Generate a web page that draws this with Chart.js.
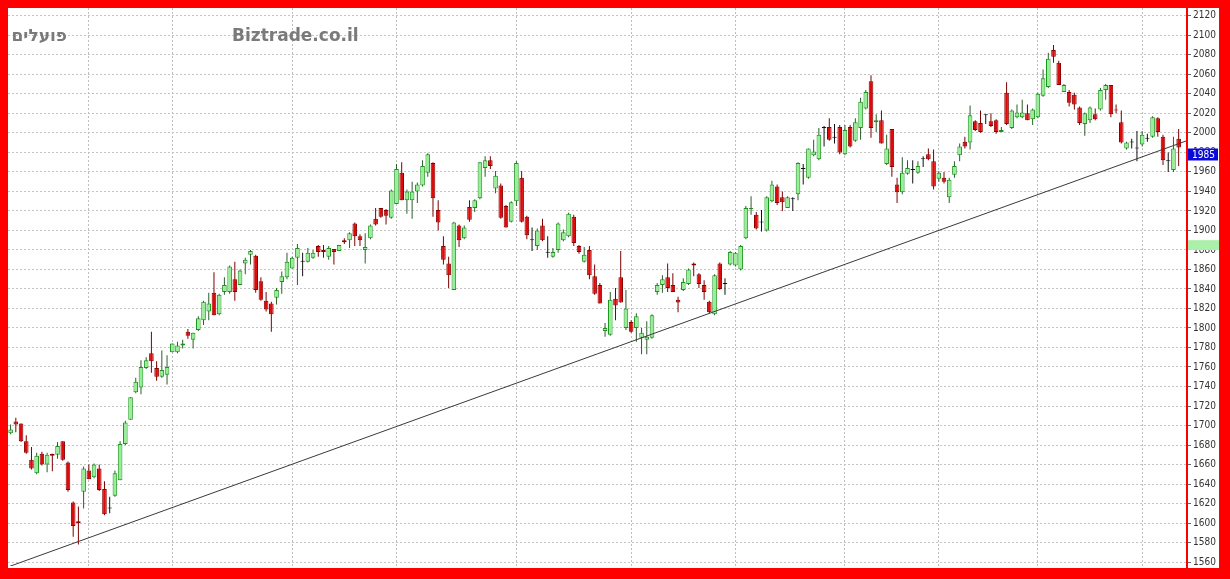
<!DOCTYPE html>
<html><head><meta charset="utf-8">
<script src="https://cdn.jsdelivr.net/npm/chart.js@4.4.0/dist/chart.umd.min.js"></script>
<style>html,body{margin:0;padding:0;background:#ff0000;overflow:hidden}#wrap{position:relative;width:1230px;height:579px}</style>
</head><body><div id="wrap"><canvas id="c" width="1230" height="579"></canvas></div>
<script>
const opens = [1692,1704,1702,1684,1665,1651,1671,1660,1671,1670,
1684,1662,1621,1602,1632,1654,1647,1656,1635,1615,
1628,1644,1681,1706,1734,1739,1759,1774,1759,1750,
1752,1775,1775,1782,1796,1788,1798,1808,1817,1836,
1814,1837,1837,1850,1844,1866,1875,1874,1848,1828,
1825,1831,1847,1852,1861,1872,1868,1868,1872,1884,
1880,1873,1881,1879,1890,1890,1907,1894,1880,1892,
1912,1923,1921,1913,1927,1959,1931,1931,1940,1946,
1959,1969,1921,1884,1866,1839,1905,1892,1924,1923,
1933,1964,1972,1943,1946,1925,1909,1930,1954,1914,
1890,1884,1905,1877,1873,1880,1890,1894,1914,1884,
1868,1880,1853,1844,1797,1793,1830,1852,1800,1806,
1800,1790,1788,1790,1837,1844,1852,1844,1829,1839,
1845,1866,1855,1844,1827,1814,1866,1845,1865,1864,
1860,1892,1922,1916,1908,1900,1930,1945,1934,1923,
1932,1937,1963,1954,1977,1973,2005,2006,1995,2006,
1978,2006,1992,2005,2025,2053,2011,2013,1968,2004,
1947,1939,1958,1962,1959,1973,1978,1971,1953,1954,
1934,1957,1977,1991,1990,2012,2010,2018,2012,2013,
2001,2041,2005,2016,2016,2020,2014,2016,2038,2047,
2085,2072,2042,2042,2039,2026,2009,2013,2019,2024,
2044,2049,2024,2011,1984,1990,1984,1988,1994,1996,
2015,1996,1971,1962,1994];
const highs = [1701,1708,1702,1690,1678,1672,1673,1672,1671,1683,
1684,1663,1622,1617,1658,1660,1661,1660,1643,1627,
1654,1684,1705,1729,1749,1767,1770,1796,1766,1777,
1772,1784,1786,1788,1799,1795,1812,1828,1836,1857,
1835,1852,1864,1868,1860,1872,1880,1875,1852,1837,
1827,1841,1858,1877,1873,1886,1877,1882,1880,1885,
1885,1884,1881,1885,1892,1898,1908,1896,1897,1906,
1923,1923,1922,1942,1968,1970,1942,1950,1949,1972,
1979,1970,1931,1894,1873,1909,1906,1905,1931,1932,
1970,1976,1976,1961,1948,1926,1930,1971,1961,1915,
1903,1902,1912,1894,1882,1908,1901,1918,1916,1885,
1883,1884,1865,1846,1805,1837,1841,1879,1839,1808,
1815,1800,1807,1814,1846,1854,1866,1856,1832,1851,
1861,1867,1856,1849,1828,1855,1867,1851,1879,1878,
1885,1925,1935,1919,1921,1935,1951,1947,1940,1935,
1934,1970,1968,1984,1993,2005,2007,2015,2009,2008,
2008,2008,2015,2036,2044,2059,2019,2023,1998,2004,
1954,1975,1972,1972,1971,1976,1984,1983,1961,1960,
1954,1971,1989,1996,2028,2013,2023,2019,2020,2014,
2006,2052,2024,2029,2034,2029,2025,2041,2065,2082,
2090,2074,2050,2044,2041,2027,2021,2027,2025,2046,
2050,2049,2029,2023,1991,1994,2002,2002,1999,2017,
2016,1998,1980,1996,2004];
const lows = [1691,1693,1683,1671,1655,1650,1659,1652,1653,1666,
1664,1632,1586,1578,1615,1645,1646,1633,1608,1610,
1627,1644,1680,1706,1733,1732,1758,1754,1746,1749,
1742,1775,1774,1779,1789,1779,1797,1803,1808,1813,
1813,1834,1835,1828,1844,1855,1865,1836,1828,1817,
1796,1824,1835,1850,1861,1844,1853,1867,1871,1873,
1872,1870,1865,1879,1886,1882,1884,1884,1866,1891,
1905,1913,1906,1912,1927,1931,1917,1912,1928,1945,
1955,1914,1900,1865,1841,1839,1883,1891,1909,1919,
1932,1955,1963,1938,1912,1903,1908,1925,1908,1891,
1879,1880,1889,1872,1872,1877,1889,1893,1884,1876,
1867,1850,1834,1825,1791,1792,1808,1826,1798,1795,
1786,1773,1773,1789,1834,1836,1837,1837,1816,1838,
1844,1853,1841,1829,1815,1813,1839,1834,1864,1863,
1859,1891,1916,1901,1899,1899,1929,1926,1920,1923,
1920,1931,1947,1953,1976,1972,1986,1992,1989,1978,
1977,1985,1991,1993,2024,1995,2001,1989,1967,1955,
1928,1937,1957,1948,1958,1965,1972,1942,1950,1948,
1928,1954,1971,1984,1983,2002,2000,2009,2006,1999,
2001,2008,2004,2015,2015,2013,2008,2015,2037,2046,
2072,2049,2042,2027,2024,2008,1997,2010,2013,2023,
2034,2016,2020,1989,1983,1984,1971,1986,1991,1995,
1996,1967,1960,1960,1966];
const closes = [1696,1701,1684,1672,1656,1669,1660,1670,1669,1679,
1665,1634,1597,1600,1656,1645,1660,1634,1609,1615,
1651,1681,1703,1729,1745,1760,1767,1766,1750,1757,
1760,1784,1782,1784,1792,1795,1810,1827,1825,1813,
1834,1844,1863,1837,1859,1870,1879,1839,1829,1819,
1814,1839,1853,1868,1872,1882,1868,1877,1877,1878,
1878,1882,1878,1885,1888,1897,1894,1890,1883,1905,
1906,1914,1915,1941,1963,1931,1940,1940,1947,1966,
1978,1933,1908,1870,1854,1908,1890,1903,1911,1931,
1970,1972,1966,1956,1913,1903,1929,1969,1909,1895,
1890,1900,1890,1877,1878,1907,1898,1917,1887,1878,
1875,1854,1835,1825,1800,1829,1823,1826,1820,1796,
1812,1795,1791,1813,1844,1850,1841,1837,1826,1847,
1860,1864,1845,1837,1816,1854,1840,1845,1878,1877,
1884,1923,1923,1902,1908,1934,1947,1928,1929,1934,
1932,1969,1963,1984,1981,1998,2005,1993,1995,1980,
2003,1986,2011,2032,2042,2005,2013,1989,1984,1965,
1939,1959,1964,1962,1966,1973,1973,1945,1959,1950,
1952,1966,1986,1986,2018,2003,2001,2018,2007,2001,
2003,2009,2023,2021,2021,2013,2024,2040,2056,2076,
2078,2049,2049,2031,2029,2010,2020,2026,2014,2044,
2049,2019,2023,1990,1990,1990,1984,1998,1994,2016,
2001,1972,1971,1984,1985];
const monthStarts = [15,31,54,74,97,119,139,160,178,197,217];
const yTickValues = [1560,1580,1600,1620,1640,1660,1680,1700,1720,1740,1760,1780,1800,1820,1840,1860,1880,1900,1920,1940,1960,1980,2000,2020,2040,2060,2080,2100,2120];
const trendLine = [{x:-0.5,y:1555},{x:225.6,y:1992}];
const refBand = [1880,1890];
const lastPrice = 1985;
const symbolName = 'פועלים';
const siteName = 'Biztrade.co.il';

const UP_FILL = '#96ee96', UP_EDGE = '#1a941a', UP_WICK = '#2b5e2b';
const DN_FILL = '#dd0a0a', DN_EDGE = '#8c0000', DN_WICK = '#7a0000';
const DOJI = '#111111';
const AXIS_FONT = '"DejaVu Sans Condensed", "DejaVu Sans", sans-serif';

const kind = opens.map((o,i)=> closes[i]>o ? 1 : (closes[i]<o ? -1 : 0));
const bodyData = opens.map((o,i)=>({x:i, y:[o, closes[i]]}));
const wickData = lows.map((l,i)=>({x:i, y:[l, highs[i]]}));

const frame = {
  id:'frame',
  beforeDraw(chart){
    const {ctx,width,height,chartArea:a} = chart;
    const ys = chart.scales.y;
    ctx.save();
    ctx.fillStyle = '#ff0000';
    ctx.fillRect(0,0,width,height);
    ctx.fillStyle = '#ffffff';
    ctx.fillRect(a.left, a.top, ys.right - a.left, a.bottom - a.top + 2);
    ctx.restore();
  },
  beforeDatasetsDraw(chart){
    const {ctx} = chart;
    ctx.save();
    ctx.fillStyle = '#7a7a7a';
    ctx.textBaseline = 'alphabetic';
    ctx.font = 'bold 17px "DejaVu Sans"';
    ctx.textAlign = 'right';
    ctx.fillText(symbolName, 67, 41);
    ctx.textAlign = 'left';
    ctx.fillText(siteName, 232, 41);
    ctx.restore();
  },
  afterDraw(chart){
    const {ctx,chartArea:a} = chart;
    const ys = chart.scales.y;
    ctx.save();
    const t = ys.getPixelForValue(refBand[1]), b = ys.getPixelForValue(refBand[0]);
    ctx.fillStyle = '#aaf0aa';
    ctx.fillRect(a.right, t, ys.right - a.right, b - t);
    const py = ys.getPixelForValue(lastPrice);
    ctx.fillStyle = '#0a0ad8';
    ctx.fillRect(a.right, py + 1, ys.right - a.right - 1, 12);
    ctx.fillStyle = '#ffffff';
    ctx.font = '10px ' + AXIS_FONT;
    ctx.textAlign = 'left';
    ctx.textBaseline = 'middle';
    ctx.fillText(String(lastPrice), a.right + 5, py + 7.5);
    ctx.strokeStyle = '#ff0000';
    ctx.lineWidth = 2;
    ctx.beginPath(); ctx.moveTo(a.right, a.top); ctx.lineTo(a.right, a.bottom + 2); ctx.stroke();
    ctx.restore();
  }
};

Chart.defaults.font.family = '"DejaVu Sans"';
new Chart(document.getElementById('c'), {
  data:{
    datasets:[
      {type:'line', data:trendLine, borderColor:'#3a3a3a', borderWidth:1, pointRadius:0, order:0, tension:0},
      {type:'bar', data:bodyData, grouped:false, barThickness:4.6, minBarLength:1, borderWidth:1, borderSkipped:false, inflateAmount:0,
        backgroundColor: kind.map(k=>k>0?UP_FILL:(k<0?DN_FILL:DOJI)),
        borderColor: kind.map(k=>k>0?UP_EDGE:(k<0?DN_EDGE:DOJI)), order:1},
      {type:'bar', data:wickData, grouped:false, barThickness:1, borderWidth:0, inflateAmount:0,
        backgroundColor: kind.map(k=>k>0?UP_WICK:(k<0?DN_WICK:DOJI)), order:2}
    ]
  },
  options:{
    responsive:false, animation:false, devicePixelRatio:1, events:[],
    layout:{padding:{left:8, top:8, right:11, bottom:13}},
    plugins:{legend:{display:false}, tooltip:{enabled:false}},
    scales:{
      x:{type:'linear', min:-0.5, max:225.6, offset:false,
        afterBuildTicks(s){ s.ticks = monthStarts.map(v=>({value:v})); },
        afterFit(s){ s.height = 0; },
        ticks:{display:false},
        grid:{color:'#bdbdbd', lineWidth:1, drawTicks:false, offset:false},
        border:{display:false, dash:[2,2]}
      },
      y:{type:'linear', position:'right', min:1556, max:2128,
        afterBuildTicks(s){ s.ticks = yTickValues.map(v=>({value:v})); },
        afterFit(s){ s.width = 32; },
        ticks:{color:'#333333', font:{size:10, family:AXIS_FONT}, padding:2, callback:(v)=>String(v)},
        grid:{color:'#c4c4c4', lineWidth:1, tickLength:4, tickColor:'#666666', tickBorderDash:[], offset:false},
        border:{display:false, dash:[2,2]}
      }
    }
  },
  plugins:[frame]
});
</script></body></html>
